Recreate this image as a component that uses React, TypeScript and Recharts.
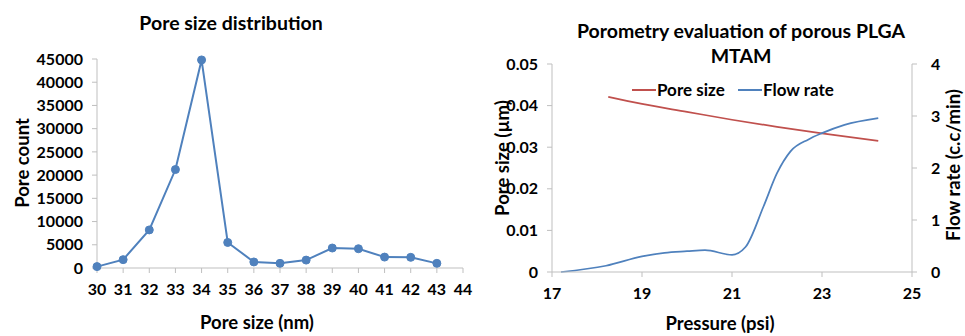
import React from 'react';
import { LineChart, Line, XAxis, YAxis } from 'recharts';

// left chart: pore size distribution
const poreSizes = [30, 31, 32, 33, 34, 35, 36, 37, 38, 39, 40, 41, 42, 43];
const poreCounts = [300, 1800, 8200, 21200, 44800, 5500, 1300, 1000, 1700, 4300, 4150, 2350, 2300, 1000];
const countTicks = [0, 5000, 10000, 15000, 20000, 25000, 30000, 35000, 40000, 45000];
const sizeTicks = [30, 31, 32, 33, 34, 35, 36, 37, 38, 39, 40, 41, 42, 43, 44];

// right chart: porometry
const poreSizePressure = [18.25, 19, 20, 21, 22, 23, 24.25];
const poreSizeUm = [0.0421, 0.0404, 0.0385, 0.0366, 0.0349, 0.0333, 0.0315];
const flowPressure = [17.2, 18.2, 19.0, 19.5, 20.0, 20.4, 21.0, 21.3, 21.7, 22.0, 22.3, 22.7, 23.0, 23.5, 24.25];
const flowRate = [0, 0.12, 0.3, 0.37, 0.4, 0.42, 0.33, 0.48, 1.26, 1.9, 2.32, 2.55, 2.67, 2.83, 2.96];
const pressureTicks = [17, 19, 21, 23, 25];
const poreTicks = [0, 0.01, 0.02, 0.03, 0.04, 0.05];
const flowTicks = [0, 1, 2, 3, 4];
const legendNames = ['Pore size', 'Flow rate'];

const distData = poreSizes.map((s, i) => ({ size: s, count: poreCounts[i] }));
const poreData = poreSizePressure.map((p, i) => ({ p, pore: poreSizeUm[i] }));
const flowData = flowPressure.map((p, i) => ({ p, flow: flowRate[i] }));

const FONT = 'Lato, "Open Sans", sans-serif';
const AXIS = '#BFBFBF';
const BLUE = '#4F81BD';
const RED = '#C0504D';
const tickStyle = { fontSize: 16, fontWeight: 700, fill: '#000', fontFamily: FONT };

const textBase: React.CSSProperties = {
  position: 'absolute',
  fontFamily: FONT,
  fontWeight: 700,
  color: '#000',
  whiteSpace: 'nowrap',
  lineHeight: 1,
};

const centered = (x: number, y: number, size: number, rotate = 0): React.CSSProperties => ({
  ...textBase,
  left: x,
  top: y,
  fontSize: size,
  transform: `translate(-50%, -50%) rotate(${rotate}deg)`,
});

const LegendItem = ({ left, color, label }: { left: number; color: string; label: string }) => (
  <div style={{ ...textBase, left, top: 81, fontSize: 17, display: 'flex', alignItems: 'center' }}>
    <span style={{ display: 'inline-block', width: 24, height: 2, background: color, marginRight: 1 }} />
    {label}
  </div>
);

export default function App() {
  return (
    <div style={{ position: 'absolute', left: 0, top: 0, width: 965, height: 336, background: '#fff', overflow: 'hidden' }}>
      <div style={{ position: 'absolute', left: 0, top: 0 }}>
        <LineChart width={480} height={336} data={distData} margin={{ top: 59, right: 17, bottom: 38, left: 0 }}>
          <XAxis
            dataKey="size"
            type="number"
            domain={[30, 44]}
            ticks={sizeTicks}
            interval={0}
            stroke={AXIS}
            tickSize={5}
            tickMargin={11}
            height={30}
            tick={tickStyle}
          />
          <YAxis
            type="number"
            domain={[0, 45000]}
            ticks={countTicks}
            interval={0}
            stroke={AXIS}
            tickSize={5}
            tickMargin={9}
            width={97}
            tick={tickStyle}
          />
          <Line
            dataKey="count"
            type="linear"
            stroke={BLUE}
            strokeWidth={2}
            dot={{ r: 4, fill: BLUE, stroke: BLUE, strokeWidth: 1 }}
            isAnimationActive={false}
          />
        </LineChart>
      </div>
      <div style={centered(231, 23, 19.5)}>Pore size distribution</div>
      <div style={centered(257, 322, 18.5)}>Pore size (nm)</div>
      <div style={centered(22, 163, 18.5, -90)}>Pore count</div>

      <div style={{ position: 'absolute', left: 480, top: 0 }}>
        <LineChart width={485} height={336} margin={{ top: 64, right: 0, bottom: 34, left: 0 }}>
          <XAxis
            dataKey="p"
            type="number"
            domain={[17, 25]}
            ticks={pressureTicks}
            interval={0}
            stroke={AXIS}
            tickSize={5}
            tickMargin={11}
            height={30}
            tick={tickStyle}
            allowDuplicatedCategory={false}
          />
          <YAxis
            yAxisId="left"
            type="number"
            domain={[0, 0.05]}
            ticks={poreTicks}
            interval={0}
            stroke={AXIS}
            tickSize={5}
            tickMargin={9}
            width={72}
            tick={tickStyle}
          />
          <YAxis
            yAxisId="right"
            orientation="right"
            type="number"
            domain={[0, 4]}
            ticks={flowTicks}
            interval={0}
            stroke={AXIS}
            tickSize={5}
            tickMargin={14}
            width={53}
            tick={tickStyle}
          />
          <Line
            yAxisId="left"
            data={poreData}
            dataKey="pore"
            name={legendNames[0]}
            type="monotone"
            stroke={RED}
            strokeWidth={1.75}
            dot={false}
            isAnimationActive={false}
          />
          <Line
            yAxisId="right"
            data={flowData}
            dataKey="flow"
            name={legendNames[1]}
            type="monotone"
            stroke={BLUE}
            strokeWidth={1.75}
            dot={false}
            isAnimationActive={false}
          />
        </LineChart>
      </div>
      <LegendItem left={632} color={RED} label={legendNames[0]} />
      <LegendItem left={738} color={BLUE} label={legendNames[1]} />
      <div style={{ ...textBase, left: 560, top: 18, width: 362, fontSize: 19.5, textAlign: 'center', lineHeight: '25px' }}>
        Porometry evaluation of porous PLGA
        <br />
        MTAM
      </div>
      <div style={centered(720, 323, 18.5)}>Pressure (psi)</div>
      <div style={centered(502, 158, 18.5, -90)}>Pore size (µm)</div>
      <div style={centered(953, 165, 18.5, -90)}>Flow rate (c.c/min)</div>
    </div>
  );
}
